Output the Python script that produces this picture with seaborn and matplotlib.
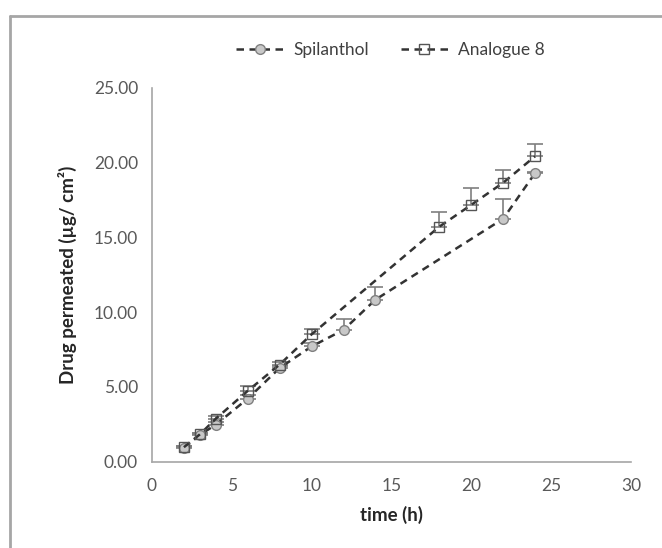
import numpy as np
import pandas as pd
import matplotlib
matplotlib.use("Agg")
import matplotlib.pyplot as plt
from matplotlib.lines import Line2D
import seaborn as sns

# values
spil_time = [2, 3, 4, 6, 8, 10, 12, 14, 22, 24]
spil_mean = [0.93, 1.79, 2.48, 4.22, 6.27, 7.71, 8.82, 10.84, 16.25, 19.31]
spil_err = [0.10, 0.10, 0.15, 0.25, 0.15, 0.20, 0.74, 0.86, 1.32, 0.10]

ana_time = [2, 3, 4, 6, 8, 10, 18, 20, 22, 24]
ana_mean = [0.97, 1.83, 2.88, 4.74, 6.50, 8.52, 15.72, 17.18, 18.66, 20.43]
ana_err = [0.10, 0.10, 0.15, 0.35, 0.15, 0.35, 0.97, 1.14, 0.84, 0.79]

x_ticks = [0, 5, 10, 15, 20, 25, 30]
y_ticks = [0, 5, 10, 15, 20, 25]

sns.set_style("white")
plt.rcParams["font.family"] = ["Lato", "DejaVu Sans"]

spil = pd.DataFrame({"time": spil_time, "drug": spil_mean})
ana = pd.DataFrame({"time": ana_time, "drug": ana_mean})

fig = plt.figure(figsize=(6.62, 5.48), dpi=100)
ax = fig.add_axes([0.2296, 0.1575, 0.7234, 0.682])

# error bars (upper only)
ax.errorbar(spil_time, spil_mean, yerr=[np.zeros(len(spil_err)), spil_err],
            fmt="none", ecolor="#7f7f7f", elinewidth=1.2, capsize=5.5, capthick=1.2, zorder=2)
ax.errorbar(ana_time, ana_mean, yerr=[np.zeros(len(ana_err)), ana_err],
            fmt="none", ecolor="#7f7f7f", elinewidth=1.2, capsize=5.5, capthick=1.2, zorder=2)

sns.lineplot(data=spil, x="time", y="drug", ax=ax, color="#333333", dashes=(3, 2.2),
             linewidth=1.8, marker="o", markersize=7, markerfacecolor="#c8c8c8",
             markeredgecolor="#808080", markeredgewidth=1.0, label="Spilanthol", zorder=3)
sns.lineplot(data=ana, x="time", y="drug", ax=ax, color="#333333", dashes=(3, 2.2),
             linewidth=1.8, marker="s", markersize=6.5, markerfacecolor="none",
             markeredgecolor="#555555", markeredgewidth=1.0, label="Analogue 8", zorder=3)

ax.set_xlim(0, 30)
ax.set_ylim(0, 25)
ax.set_xticks(x_ticks)
ax.set_yticks(y_ticks)
ax.set_yticklabels([f"{v:.2f}" for v in y_ticks])

for s in ["top", "right"]:
    ax.spines[s].set_visible(False)
for s in ["left", "bottom"]:
    ax.spines[s].set_color("#a6a6a6")
    ax.spines[s].set_linewidth(1.2)
ax.tick_params(axis="both", colors="#a6a6a6", length=4, width=1.2, direction="out",
               labelcolor="#595959", labelsize=12.5, pad=6)
ax.tick_params(axis="x", pad=8)

ax.set_xlabel("time (h)", fontsize=13.5, fontweight="bold", color="#262626", labelpad=8)
ax.set_ylabel("Drug permeated (µg/ cm²)", fontsize=13.5, fontweight="bold", color="#262626", labelpad=12)

ax.legend(loc="center", bbox_to_anchor=(0.59, 0.909), bbox_transform=fig.transFigure,
          ncol=2, frameon=False, fontsize=12.5, handlelength=2.7, columnspacing=1.8,
          handletextpad=0.6, labelcolor="#404040")

# outer frame around the chart
fig.add_artist(Line2D([0.015, 1.0], [0.971, 0.971], transform=fig.transFigure,
                      color="#a6a6a6", linewidth=2))
fig.add_artist(Line2D([0.015, 0.015], [0.0, 0.971], transform=fig.transFigure,
                      color="#a6a6a6", linewidth=2))

fig.savefig("out.png", dpi=100)
